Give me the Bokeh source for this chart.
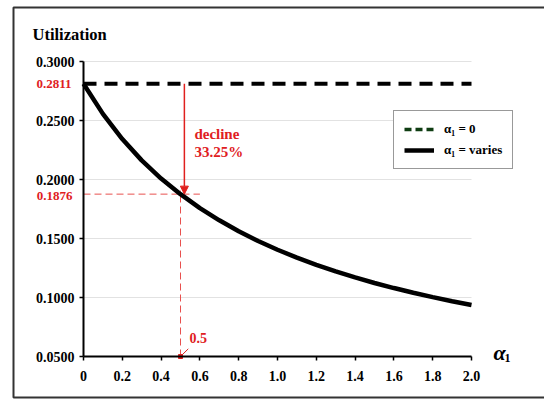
from bokeh.plotting import figure
from bokeh.models import (FixedTicker, PrintfTickFormatter, Label, Arrow, NormalHead,
                          Legend, LegendItem, BoxAnnotation, Range1d)
from bokeh.embed import file_html
from bokeh.resources import INLINE

# Utilization as the parameter alpha_1 grows
alpha1 = [0.0, 0.1, 0.2, 0.3, 0.4, 0.5, 0.6, 0.7, 0.8, 0.9, 1.0,
          1.1, 1.2, 1.3, 1.4, 1.5, 1.6, 1.7, 1.8, 1.9, 2.0]
utilization = [0.2811, 0.2556, 0.2343, 0.2162, 0.2008, 0.1876, 0.1757, 0.1654,
               0.1561, 0.1479, 0.1405, 0.1338, 0.1277, 0.1221, 0.1170, 0.1123,
               0.1080, 0.1040, 0.1003, 0.0968, 0.0937]

# alpha_1 = 0 reference level
baseline_x = [0.0, 2.0]
baseline_y = [0.2811, 0.2811]

# highlighted point
mark_alpha = 0.5
mark_util = 0.1876
arrow_x = 0.52
decline_text = ["decline", "33.25%"]

y_ticks = [0.05, 0.10, 0.15, 0.20, 0.25, 0.30]
x_ticks = [0.0, 0.2, 0.4, 0.6, 0.8, 1.0, 1.2, 1.4, 1.6, 1.8, 2.0]
x_lo, x_hi = 0.0, 2.0
y_lo, y_hi = 0.05, 0.30

SERIF = "Liberation Serif"
RED = "#e0201e"
RED_LIGHT = "#e8504e"

# The frame fills the whole canvas; the plotting box sits inside it, so that
# every text can live in the frame without being clipped.
W, H = 544, 401
BOX_L, BOX_R, BOX_T, BOX_B = 83, 471, 61, 356
kx = (BOX_R - BOX_L) / (x_hi - x_lo)
ky = (BOX_B - BOX_T) / (y_hi - y_lo)


def px_x(px):
    return x_lo + (px - BOX_L) / kx


def px_y(py):
    return y_lo + (BOX_B - py) / ky


p = figure(width=W, height=H, output_backend="svg", toolbar_location=None,
           x_range=Range1d(px_x(0), px_x(W)), y_range=Range1d(px_y(H), px_y(0)),
           min_border=0)
p.outline_line_color = None
p.background_fill_color = "white"
p.border_fill_color = "white"
p.xgrid.visible = False
p.ygrid.visible = False

# horizontal grid lines across the plotting box
p.segment(x0=[x_lo] * len(y_ticks), x1=[x_hi] * len(y_ticks), y0=y_ticks, y1=y_ticks,
          line_color="#e2e2e2", line_width=1)

# axes placed inside the frame
for ax in (p.xaxis[0], p.yaxis[0]):
    ax.axis_line_color = "black"
    ax.axis_line_width = 2
    ax.major_tick_line_color = "black"
    ax.major_tick_line_width = 1.5
    ax.major_tick_in = 0
    ax.major_tick_out = 4
    ax.minor_tick_line_color = None
    ax.major_label_text_font = SERIF
    ax.major_label_text_font_style = "bold"
    ax.major_label_text_font_size = "14px"
    ax.major_label_text_color = "black"

p.yaxis.fixed_location = x_lo
p.yaxis.bounds = (y_lo, y_hi)
p.yaxis.ticker = FixedTicker(ticks=y_ticks)
p.yaxis.formatter = PrintfTickFormatter(format="%.4f")
p.yaxis.major_label_standoff = 5

p.xaxis.fixed_location = y_lo
p.xaxis.bounds = (x_lo, x_hi)
p.xaxis.ticker = FixedTicker(ticks=x_ticks)
p.xaxis.formatter = PrintfTickFormatter(format="%.1f")
p.xaxis.major_label_overrides = {0: "0"}
p.xaxis.major_label_standoff = 10

# reference lines through the highlighted point
p.line(x=[x_lo, mark_alpha + 0.1], y=[mark_util, mark_util],
       line_color=RED_LIGHT, line_width=1, line_dash="7 4")
p.line(x=[mark_alpha, mark_alpha], y=[y_lo, mark_util + 0.003],
       line_color=RED_LIGHT, line_width=1, line_dash="7 4")

# data lines
r_key = p.line(x=baseline_x, y=baseline_y, line_color="#0f3d12", line_width=3.5,
               line_dash="7 4", visible=False)
p.line(x=baseline_x, y=baseline_y, line_color="black", line_width=4,
       line_dash="13 8", line_cap="butt")
r_curve = p.line(x=alpha1, y=utilization, line_color="black", line_width=4.5)

# decline arrow
p.add_layout(Arrow(x_start=arrow_x, y_start=baseline_y[0], x_end=arrow_x, y_end=mark_util,
                   line_color=RED, line_width=1.5,
                   end=NormalHead(size=8, fill_color=RED, line_color=RED)))

label_style = dict(text_font=SERIF, text_font_style="bold", text_color=RED)
p.add_layout(Label(x=arrow_x, y=baseline_y[0], x_offset=10, y_offset=-50,
                   text=decline_text[0], text_baseline="middle",
                   text_font_size="15px", **label_style))
p.add_layout(Label(x=arrow_x, y=baseline_y[0], x_offset=10, y_offset=-68,
                   text=decline_text[1], text_baseline="middle",
                   text_font_size="15px", **label_style))

# axis value call-outs
p.add_layout(Label(x=x_lo, y=baseline_y[0], x_offset=-12, text=f"{baseline_y[0]:.4f}",
                   text_align="right", text_baseline="middle",
                   text_font_size="13px", **label_style))
p.add_layout(Label(x=x_lo, y=mark_util, x_offset=-11, y_offset=-2, text=f"{mark_util:.4f}",
                   text_align="right", text_baseline="middle",
                   text_font_size="13px", **label_style))

# alpha_1 = 0.5 marker on the x axis
p.scatter(x=[mark_alpha], y=[y_lo], marker="square", size=4,
          fill_color=RED, line_color=RED)
p.segment(x0=[mark_alpha], y0=[y_lo], x1=[mark_alpha + 0.04], y1=[y_lo + 0.0065],
          line_color=RED, line_width=1)
p.add_layout(Label(x=mark_alpha, y=y_lo, x_offset=9, y_offset=19, text=f"{mark_alpha}",
                   text_baseline="middle", text_font_size="14px", **label_style))

# axis titles
p.add_layout(Label(x=px_x(32), y=px_y(34), text="Utilization", text_baseline="middle",
                   text_font=SERIF, text_font_style="bold", text_font_size="16.5px",
                   text_color="black"))
p.add_layout(Label(x=x_hi, y=y_lo, x_offset=22, y_offset=4, text="α",
                   text_baseline="middle", text_font=SERIF,
                   text_font_style="bold italic", text_font_size="22px",
                   text_color="black"))
p.add_layout(Label(x=x_hi, y=y_lo, x_offset=33, y_offset=-1, text="1",
                   text_baseline="middle", text_font=SERIF, text_font_style="bold",
                   text_font_size="12px", text_color="black"))

# legend
legend = Legend(items=[LegendItem(label="α₁ = 0", renderers=[r_key]),
                       LegendItem(label="α₁ = varies", renderers=[r_curve])],
                location=(393, H - 169), orientation="vertical",
                label_text_font=SERIF, label_text_font_style="bold",
                label_text_font_size="13px", label_text_color="black",
                glyph_width=30, glyph_height=16, label_height=16,
                label_standoff=10, spacing=5, padding=10, margin=0,
                border_line_color="#333333", border_line_width=1,
                background_fill_color="white", background_fill_alpha=1,
                inactive_fill_alpha=0)
p.add_layout(legend)

# outer frame around the whole chart
p.add_layout(BoxAnnotation(left=px_x(13), right=px_x(W + 20), top=px_y(7), bottom=px_y(397),
                           fill_alpha=0, line_color="#333333", line_alpha=1, line_width=2,
                           level="overlay"))

open("out.html", "w").write(file_html(p, INLINE))
